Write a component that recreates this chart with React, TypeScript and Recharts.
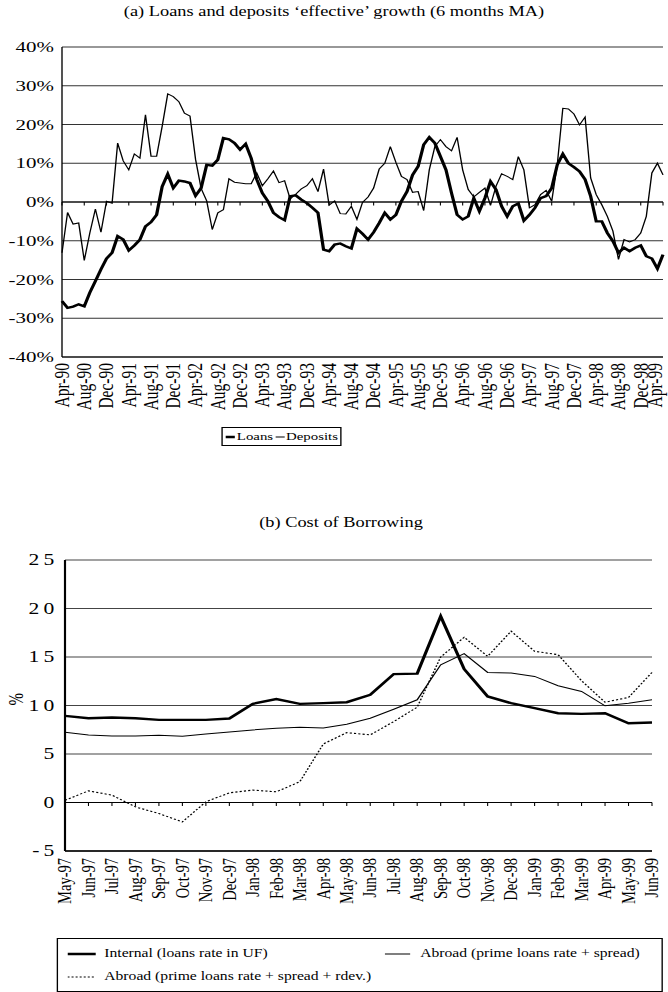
import React from "react";
import { LineChart, Line, XAxis, YAxis, CartesianGrid, ReferenceLine, Legend } from "recharts";

// the source figure is stretched sideways, so everything is drawn narrow and scaled back out
const SX = 1.35;
const BASE_W = 668 / SX;
const FONT = '"Liberation Serif", "Times New Roman", serif';

const MONTH_NAMES = ["Jan", "Feb", "Mar", "Apr", "May", "Jun", "Jul", "Aug", "Sep", "Oct", "Nov", "Dec"];

function monthLabels(startYear: number, startMonth: number, count: number) {
  const out: string[] = [];
  for (let i = 0; i < count; i++) {
    const m = (startMonth + i) % 12;
    const y = startYear + Math.floor((startMonth + i) / 12);
    out.push(`${MONTH_NAMES[m]}-${String(y % 100).padStart(2, "0")}`);
  }
  return out;
}

// (a) Apr-90 .. Apr-99, monthly
const growthMonths = monthLabels(90, 3, 109);

const loans = [
  -25.6, -27.3, -27.0, -26.4, -26.9, -23.4, -20.4, -17.4, -14.6, -13.1,
  -8.8, -9.7, -12.5, -11.2, -9.7, -6.3, -5.2, -3.3, 4.0, 7.2,
  3.6, 5.5, 5.3, 4.9, 1.6, 3.6, 9.6, 9.4, 10.9, 16.5,
  16.2, 15.2, 13.5, 15.0, 11.3, 5.8, 2.3, 0.2, -2.8, -3.9,
  -4.7, 1.5, 1.7, 0.6, -0.3, -1.5, -2.8, -12.3, -12.7, -11.0,
  -10.7, -11.4, -12.0, -6.9, -8.2, -9.7, -7.8, -5.4, -2.8, -4.5,
  -3.3, 0.2, 2.7, 7.0, 9.2, 14.8, 16.7, 15.2, 11.8, 8.3,
  2.3, -3.3, -4.5, -3.7, 1.0, -2.4, 1.0, 5.3, 3.2, -1.1,
  -3.7, -1.1, -0.4, -4.8, -3.3, -1.5, 1.0, 1.5, 3.6, 9.6,
  12.4, 10.0, 9.0, 7.9, 5.8, 1.5, -5.0, -5.0, -8.0, -10.1,
  -13.1, -11.8, -12.7, -11.8, -11.2, -14.0, -14.6, -17.2, -13.6,
];

const deposits = [
  -13.1, -2.7, -5.7, -5.4, -15.1, -8.0, -1.8, -7.8, 0.2, -0.3,
  15.2, 10.6, 8.3, 12.4, 11.3, 22.5, 11.8, 11.8, 19.5, 27.9,
  27.2, 25.9, 22.9, 22.2, 11.0, 3.5, 0.3, -7.1, -2.8, -2.0,
  6.0, 5.1, 4.9, 4.7, 4.7, 7.5, 4.2, 6.0, 8.0, 5.0,
  5.5, 0.8, 2.0, 3.4, 4.2, 6.0, 2.7, 8.5, -0.8, 0.3,
  -3.0, -3.1, -1.1, -4.5, -0.1, 1.3, 3.6, 8.5, 10.0, 14.3,
  10.2, 6.6, 5.8, 2.5, 2.7, -2.2, 8.3, 14.3, 16.1, 14.3,
  13.2, 16.7, 8.3, 3.2, 1.3, 2.5, 3.6, -0.9, 4.1, 7.3,
  6.6, 5.8, 11.7, 8.3, -1.5, -0.7, 1.9, 3.0, 0.2, 9.6,
  24.2, 24.0, 22.7, 19.9, 21.9, 6.2, 1.9, -0.7, -3.7, -7.5,
  -14.8, -9.7, -10.3, -9.7, -8.0, -3.7, 7.5, 10.0, 7.0,
];

const growthTicks = [-40, -30, -20, -10, 0, 10, 20, 30, 40];

// (b) May-97 .. Jun-99, monthly
const costMonths = [
  "May-97", "Jun-97", "Jul-97", "Aug-97", "Sep-97", "Oct-97", "Nov-97", "Dec-97",
  "Jan-98", "Feb-98", "Mar-98", "Apr-98", "May-98", "Jun-98", "Jul-98", "Aug-98",
  "Sep-98", "Oct-98", "Nov-98", "Dec-98", "Jan-99", "Feb-99", "Mar-99", "Apr-99",
  "May-99", "Jun-99",
];
const internalRate = [
  8.93, 8.69, 8.76, 8.69, 8.52, 8.52, 8.52, 8.66, 10.17, 10.66, 10.17, 10.24, 10.34,
  11.1, 13.24, 13.28, 19.2, 13.76, 10.93, 10.24, 9.72, 9.2, 9.14, 9.2, 8.17, 8.24,
];
const abroadRate = [
  7.24, 6.97, 6.86, 6.86, 6.93, 6.83, 7.07, 7.28, 7.48, 7.66, 7.76, 7.69, 8.07,
  8.69, 9.62, 10.59, 14.2, 15.34, 13.41, 13.34, 13.0, 12.03, 11.45, 9.97, 10.24, 10.59,
];
const abroadRdev = [
  0.24, 1.2, 0.76, -0.45, -1.14, -2.0, 0.07, 1.0, 1.28, 1.1, 2.14, 6.03, 7.2,
  6.97, 8.34, 9.83, 15.0, 17.03, 15.07, 17.66, 15.59, 15.24, 12.55, 10.34, 10.83, 13.41,
];
const costTicks = [-5, 0, 5, 10, 15, 20, 25];

const growthRows = growthMonths.map((month, i) => ({ month, loans: loans[i], deposits: deposits[i] }));
const costRows = costMonths.map((month, i) => ({
  month,
  internal: internalRate[i],
  abroad: abroadRate[i],
  rdev: abroadRdev[i],
}));

// zero line with small tick marks hanging under it, one per `every` categories
function zeroLine(count: number, every: number) {
  return (props: any) => {
    const { x1, x2, y1 } = props;
    if (x1 == null) return <g />;
    const step = (x2 - x1) / (count - 1);
    const marks = [];
    for (let i = 0; i < count; i += every) {
      const x = x1 + i * step;
      marks.push(<line key={i} x1={x} x2={x} y1={y1} y2={y1 + 3.5} stroke="#000" strokeWidth={0.8} />);
    }
    return (
      <g>
        <line x1={x1} y1={y1} x2={x2} y2={y1} stroke="#000" strokeWidth={1} />
        {marks}
      </g>
    );
  };
}

// rotated month label; the last one is held just inside the right edge
const VertTick = ({ x, y, payload, size }: any) => {
  const tx = Math.min(x, BASE_W - size * 0.62);
  return (
    <text
      x={tx}
      y={y}
      transform={`rotate(-90, ${tx}, ${y})`}
      textAnchor="end"
      dominantBaseline="central"
      fontFamily={FONT}
      fontSize={size}
      fill="#000"
    >
      {payload.value}
    </text>
  );
};

const PctTick = ({ x, y, payload }: any) => (
  <text x={x} y={y} textAnchor="end" dominantBaseline="central" fontFamily={FONT} fontSize={15.5} fill="#000">
    {`${payload.value}%`}
  </text>
);

const SpacedTick = ({ x, y, payload }: any) => (
  <text
    x={x}
    y={y}
    textAnchor="end"
    dominantBaseline="central"
    fontFamily={FONT}
    fontSize={16}
    letterSpacing={3}
    fill="#000"
  >
    {payload.value}
  </text>
);

const Sample = ({ width, stroke, dash }: { width: number; stroke: number; dash?: string }) => (
  <svg width={width} height={8} style={{ display: "block" }}>
    <line x1={0} y1={4} x2={width} y2={4} stroke="#000" strokeWidth={stroke} strokeDasharray={dash} />
  </svg>
);

const TopLegend = () => (
  <div
    style={{
      border: "1px solid #000",
      display: "flex",
      alignItems: "center",
      padding: "1px 2px",
      fontFamily: FONT,
      fontSize: 11,
      lineHeight: "15px",
      background: "#fff",
      whiteSpace: "nowrap",
    }}
  >
    <Sample width={7} stroke={2.4} />
    <span style={{ marginLeft: 1, marginRight: 2 }}>Loans</span>
    <Sample width={7} stroke={1} />
    <span style={{ marginLeft: 0.5 }}>Deposits</span>
  </div>
);

const BottomLegend = () => (
  <div
    style={{
      border: "1px solid #000",
      width: 449,
      height: 54,
      boxSizing: "border-box",
      fontFamily: FONT,
      fontSize: 11.6,
      background: "#fff",
      position: "relative",
      whiteSpace: "nowrap",
    }}
  >
    <div style={{ position: "absolute", left: 7, top: 8, display: "flex", alignItems: "center" }}>
      <Sample width={21} stroke={2.4} />
      <span style={{ marginLeft: 6 }}>Internal (loans rate in UF)</span>
    </div>
    <div style={{ position: "absolute", left: 242, top: 8, display: "flex", alignItems: "center" }}>
      <Sample width={19} stroke={1} />
      <span style={{ marginLeft: 7 }}>Abroad (prime loans rate + spread)</span>
    </div>
    <div style={{ position: "absolute", left: 7, top: 31, display: "flex", alignItems: "center" }}>
      <Sample width={21} stroke={1.2} dash="1.5 1.5" />
      <span style={{ marginLeft: 6 }}>Abroad (prime loans rate + spread + rdev.)</span>
    </div>
  </div>
);

export default function App() {
  const topLeft = 62 / SX;
  const topRight = BASE_W - 663 / SX;
  const botLeft = 65 / SX;
  const botRight = BASE_W - 652 / SX;

  return (
    <div style={{ position: "absolute", left: 0, top: 0, width: 668, height: 992, overflow: "hidden", background: "#fff" }}>
      <div
        style={{
          position: "absolute",
          left: 0,
          top: 0,
          width: BASE_W,
          height: 992,
          transform: `scaleX(${SX})`,
          transformOrigin: "0 0",
          fontFamily: FONT,
          color: "#000",
        }}
      >
        <div style={{ position: "absolute", left: 0, top: 4, width: BASE_W, textAlign: "center", fontSize: 13.6 }}>
          (a) Loans and deposits ‘effective’ growth (6 months MA)
        </div>

        <div style={{ position: "absolute", left: 0, top: 0 }}>
          <LineChart width={BASE_W} height={470} data={growthRows} margin={{ top: 47, right: topRight, bottom: 0, left: 0 }}>
            <CartesianGrid vertical={false} stroke="#333" strokeWidth={1} />
            <XAxis
              dataKey="month"
              interval={3}
              height={113}
              tickLine={false}
              tickSize={0}
              tickMargin={6}
              axisLine={{ stroke: "#000" }}
              tick={<VertTick size={15.5} />}
            />
            <YAxis
              domain={[-40, 40]}
              ticks={growthTicks}
              width={topLeft}
              tickLine={false}
              tickSize={0}
              tickMargin={6}
              axisLine={{ stroke: "#000" }}
              tick={<PctTick />}
            />
            <YAxis
              yAxisId="frame"
              orientation="right"
              domain={[-40, 40]}
              width={0}
              tick={false}
              tickLine={false}
              axisLine={{ stroke: "#000" }}
            />
            <ReferenceLine y={0} shape={zeroLine(growthRows.length, 4)} />
            <Line dataKey="deposits" name="Deposits" type="linear" stroke="#000" strokeWidth={1} dot={false} isAnimationActive={false} />
            <Line dataKey="loans" name="Loans" type="linear" stroke="#000" strokeWidth={2.4} dot={false} isAnimationActive={false} />
            <Legend
              verticalAlign="middle"
              content={<TopLegend />}
              wrapperStyle={{ left: 222 / SX, top: 427, width: "auto" }}
            />
          </LineChart>
        </div>

        <div style={{ position: "absolute", left: 252.6 - 150, top: 515, width: 300, textAlign: "center", fontSize: 13.6 }}>
          (b) Cost of Borrowing
        </div>

        <div style={{ position: "absolute", left: 0, top: 470 }}>
          <LineChart width={BASE_W} height={522} data={costRows} margin={{ top: 90, right: botRight, bottom: 0, left: 0 }}>
            <CartesianGrid vertical={false} stroke="#444" strokeWidth={1} />
            <XAxis
              dataKey="month"
              interval={0}
              height={141}
              tickLine={false}
              tickSize={0}
              tickMargin={7}
              axisLine={{ stroke: "#000", strokeWidth: 1.6 }}
              tick={<VertTick size={14.5} />}
            />
            <YAxis
              domain={[-5, 25]}
              ticks={costTicks}
              width={botLeft}
              tickLine={false}
              tickSize={0}
              tickMargin={5}
              axisLine={{ stroke: "#000", strokeWidth: 1.6 }}
              tick={<SpacedTick />}
              label={{ value: "%", angle: -90, position: "insideLeft", offset: 12, fontSize: 15, fontFamily: FONT, fill: "#000" }}
            />
            <YAxis
              yAxisId="frame"
              orientation="right"
              domain={[-5, 25]}
              width={0}
              tick={false}
              tickLine={false}
              axisLine={{ stroke: "#000", strokeWidth: 1.6 }}
            />
            <ReferenceLine y={0} shape={zeroLine(costRows.length, 1)} />
            <Line dataKey="rdev" name="Abroad (prime loans rate + spread + rdev.)" type="linear" stroke="#000" strokeWidth={1.1} strokeDasharray="1.6 1.6" dot={false} isAnimationActive={false} />
            <Line dataKey="abroad" name="Abroad (prime loans rate + spread)" type="linear" stroke="#000" strokeWidth={1} dot={false} isAnimationActive={false} />
            <Line dataKey="internal" name="Internal (loans rate in UF)" type="linear" stroke="#000" strokeWidth={2.4} dot={false} isAnimationActive={false} />
            <Legend
              verticalAlign="middle"
              content={<BottomLegend />}
              wrapperStyle={{ left: 57 / SX, top: 938 - 470, width: "auto" }}
            />
          </LineChart>
        </div>
      </div>
    </div>
  );
}
